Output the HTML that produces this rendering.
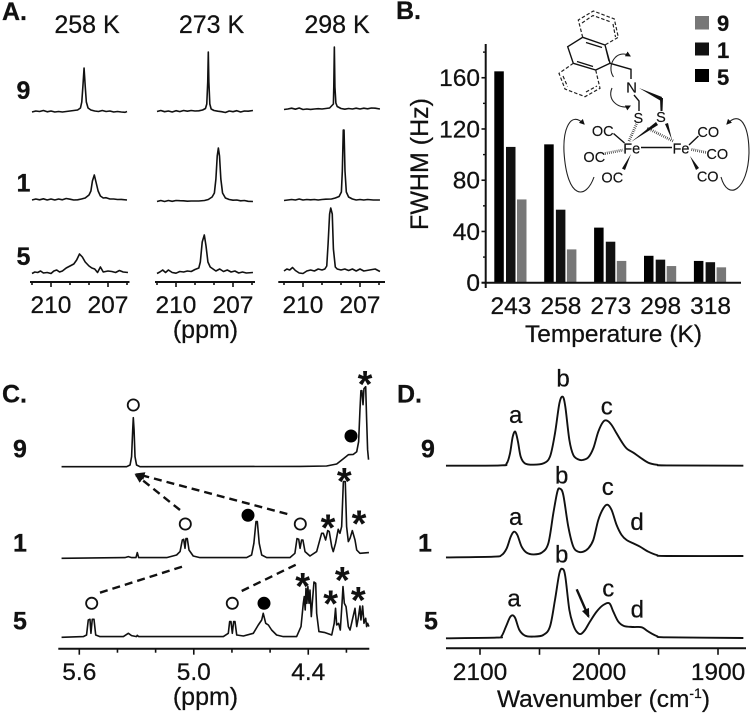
<!DOCTYPE html>
<html lang="en">
<head>
<meta charset="utf-8">
<title>FWHM and spectra figure</title>
<style>
html,body{margin:0;padding:0;background:#fff;width:752px;height:715px;overflow:hidden}
svg{display:block;filter:blur(0.35px)}
text{font-family:"Liberation Sans",Arial,sans-serif;fill:#111;stroke:#111;stroke-width:.25px}
.pl{font-size:25px;font-weight:700}
.rl{font-size:25px;font-weight:700}
.t24{font-size:24.5px}
.ast{font-size:38px;font-weight:700;text-anchor:middle;stroke:none}
.pk{font-size:24px;text-anchor:middle}
.chem{font-size:14.5px;text-anchor:middle;stroke-width:.15px}
.bd{stroke:#111;stroke-width:1.4;fill:none}
.ds{stroke:#222;stroke-width:1.2;fill:none;stroke-dasharray:3.5 2}
.dt{stroke:#222;stroke-width:2.8;fill:none;stroke-dasharray:.7 1.3}
.cv{stroke:#222;stroke-width:1.1;fill:none}
</style>
</head>
<body>
<svg id="fig" width="752" height="715" viewBox="0 0 752 715" xmlns="http://www.w3.org/2000/svg">
<defs>
<marker id="ah" viewBox="0 0 10 10" refX="8" refY="5" markerWidth="5" markerHeight="5" orient="auto-start-reverse"><path d="M0,0L10,5L0,10Z" fill="#111"/></marker>
<marker id="ah2" viewBox="0 0 10 10" refX="8" refY="5" markerWidth="4" markerHeight="4" orient="auto"><path d="M0,1L10,5L0,9Z" fill="#111"/></marker>
</defs>
<rect width="752" height="715" fill="#fff"/>

<g id="panelA">
<text class="pl" x="2" y="20">A.</text>
<text class="t24" x="87" y="33" text-anchor="middle" style="font-size:25px">258 K</text>
<text class="t24" x="211.5" y="33" text-anchor="middle" style="font-size:25px">273 K</text>
<text class="t24" x="337" y="33" text-anchor="middle" style="font-size:25px">298 K</text>
<text class="rl" x="16.5" y="99">9</text>
<text class="rl" x="16.5" y="191.5">1</text>
<text class="rl" x="16.5" y="265">5</text>
<text class="t24" x="205.5" y="338" text-anchor="middle" style="font-size:25px">(ppm)</text>
</g>

<g id="panelB">
<text class="pl" x="396" y="19">B.</text>
<text class="t24" transform="translate(428,164) rotate(-90)" text-anchor="middle" style="font-size:25px">FWHM (Hz)</text>
<text class="t24" x="613.5" y="342" text-anchor="middle">Temperature (K)</text>
<g>
<rect x="695" y="16" width="14" height="13.5" fill="#777"/>
<text x="717" y="31" style="font-size:22px;font-weight:700">9</text>
<rect x="695" y="42.5" width="14" height="13" fill="#111"/>
<text x="717" y="58" style="font-size:22px;font-weight:700">1</text>
<rect x="695" y="69" width="14" height="13" fill="#000"/>
<text x="717" y="85" style="font-size:22px;font-weight:700">5</text>
</g>
<g>
<path class="bd" d="M567.7,46.7L582.7,37.3L605,45L610,63.3L595.7,70L573.3,63.3Z M586,42.5L602,47.5 M606,49L609,61 M593,66.5L577,61.5"/>
<path class="ds" d="M582.7,37.3L578.3,20L593.3,11L614.3,19L618.3,37.3L605,45 M582,23L593,15.5L611,22 M613,24L615.5,37"/>
<path class="ds" d="M573.3,63.3L559,73.3L565,89L585,96.7L600,88.3L595.7,70 M563,76L567.5,86.5 M586,92L597,86"/>
<path class="bd" d="M610,63.3L631,69.3L631,79"/>
<path class="bd" d="M634,95L639,101L639,111"/>
<path d="M639,88L662,97L661,101Z" fill="#111"/>
<path d="M660,98L663,98L662.5,111L660.5,111Z" fill="#111"/>
<text class="chem" x="631.5" y="92.5" style="font-size:15px">N</text>
<text class="chem" x="638.3" y="123">S</text>
<text class="chem" x="661" y="122">S</text>
<text class="chem" x="631.7" y="153.5">Fe</text>
<text class="chem" x="681" y="153.5">Fe</text>
<text class="chem" x="602.7" y="136">OC</text>
<text class="chem" x="594.3" y="162">OC</text>
<text class="chem" x="612.3" y="182.5">OC</text>
<text class="chem" x="708.3" y="137">CO</text>
<text class="chem" x="717.3" y="159">CO</text>
<text class="chem" x="707.7" y="181.5">CO</text>
<path class="bd" d="M641,147.5L672,147.5 M613.5,133.5L624.5,143 M689,145L698.5,136"/>
<path class="dt" d="M605,153.5L623,150 M691.5,149.5L706.5,152.5 M629,141L636.5,124 M673,141L647,128"/>
<path d="M631,154L625,170L622,168.5Z M690,156L699,168L696,170Z M631,142L656,122L658,125Z M672,140L665,124L668,123Z" fill="#111"/>
<path class="cv" marker-end="url(#ah)" d="M594,177C586,200 567,200 564,152C563,130 570,110 584,124"/>
<path class="cv" marker-end="url(#ah)" d="M721,177C728,202 748,190 749,153C749,125 740,110 727,124"/>
<path class="cv" marker-end="url(#ah)" d="M613.5,77C606,66 616,48 630,56"/>
<path class="cv" marker-end="url(#ah)" d="M612,88C606,102 622,110 630,106"/>
</g>
</g>

<g id="panelC">
<text class="pl" x="2" y="402.5">C.</text>
<text class="rl" x="13" y="457.5">9</text>
<text class="rl" x="13" y="551.5">1</text>
<text class="rl" x="13" y="629.5">5</text>
<text class="t24" x="205.5" y="705" text-anchor="middle" style="font-size:25px">(ppm)</text>
<g fill="#fff" stroke="#111" stroke-width="1.8">
<circle cx="133.3" cy="405" r="5.6"/>
<circle cx="185.3" cy="524" r="5.6"/>
<circle cx="300.3" cy="524" r="5.6"/>
<circle cx="91.7" cy="603.3" r="5.6"/>
<circle cx="232.3" cy="603.3" r="5.6"/>
</g>
<g fill="#000">
<circle cx="351" cy="436" r="6.5"/>
<circle cx="248" cy="515.3" r="6.5"/>
<circle cx="264" cy="603.3" r="6.5"/>
</g>
<g stroke="#111" stroke-width="2.4" stroke-dasharray="8 5" fill="none">
<path d="M180,510L136,475" marker-end="url(#ah2)"/>
<path d="M287.3,514L137,474" marker-end="url(#ah2)"/>
<path d="M100,592.7L184.3,566"/>
<path d="M241.7,591L296.7,564.3"/>
</g>
<g>
<text class="ast" x="365" y="397">*</text>
<text class="ast" x="344.3" y="494">*</text>
<text class="ast" x="328" y="540.7">*</text>
<text class="ast" x="359" y="536.7">*</text>
<text class="ast" x="302.7" y="599">*</text>
<text class="ast" x="330.7" y="616.7">*</text>
<text class="ast" x="342.3" y="593">*</text>
<text class="ast" x="358.3" y="613">*</text>
</g>
</g>

<g id="panelD">
<text class="pl" x="397" y="402.5">D.</text>
<text class="rl" x="421" y="457.5">9</text>
<text class="rl" x="418" y="551.5">1</text>
<text class="rl" x="424" y="629.5">5</text>
<text class="t24" x="603.5" y="707" text-anchor="middle">Wavenumber (cm<tspan dy="-9" style="font-size:14px">-1</tspan><tspan dy="9">)</tspan></text>
<text class="pk" x="515.7" y="423">a</text>
<text class="pk" x="563" y="386.5">b</text>
<text class="pk" x="606.7" y="414.5">c</text>
<text class="pk" x="515.7" y="525">a</text>
<text class="pk" x="561.7" y="483.5">b</text>
<text class="pk" x="607.7" y="495">c</text>
<text class="pk" x="637" y="530">d</text>
<text class="pk" x="514" y="606.5">a</text>
<text class="pk" x="561.7" y="562.5">b</text>
<text class="pk" x="608.3" y="596.5">c</text>
<text class="pk" x="637.3" y="617.5">d</text>
<path d="M576.7,589.3L588.5,616.5" stroke="#111" stroke-width="2.4" fill="none" marker-end="url(#ah2)"/>
</g>

<g id="marks"></g>
</svg>

<script>
/* ---------- Panel B data ---------- */
const temperatures = ['243', '258', '273', '298', '318'];
const fwhm5 = [165, 108, 43, 21, 17];
const fwhm1 = [106, 57, 32, 18, 16];
const fwhm9 = [65, 26, 17, 13, 12];
const fwhmTicks = [0, 40, 80, 120, 160];
const fwhmMinorTicks = [20, 60, 100, 140, 180];

/* ---------- Panel A data: [ppm, intensity] ---------- */
const a258r9 = [[211,0],[210.8,1],[210.6,.5],[210.4,1.5],[210.2,.2],[210,1],[209.8,0],[209.6,.5],[209.4,0],[209.2,.5],[209,1],[208.8,1.5],[208.6,2],[208.45,4],[208.38,10],[208.32,26],[208.26,44],[208.2,26],[208.14,10],[208.05,4],[207.9,2],[207.7,1],[207.5,.5],[207.3,1.5],[207.1,.5],[206.9,1],[206.7,0],[206.5,.5],[206.3,0],[206.1,-.3],[206,.5]];
const a273r9 = [[211,.5],[210.8,1.5],[210.6,.3],[210.4,1],[210.2,0],[210,1.3],[209.8,.4],[209.6,1.5],[209.4,.8],[209.2,1.5],[209,1],[208.8,1.2],[208.6,2],[208.45,3.5],[208.38,8],[208.33,30],[208.3,60],[208.27,30],[208.22,8],[208.15,3],[208,1.5],[207.8,.8],[207.6,.3],[207.4,-.5],[207.2,1],[207,.3],[206.8,1.3],[206.6,0],[206.4,1],[206.2,.8],[205.95,1.5]];
const a298r9 = [[211,2.5],[210.8,3],[210.6,3.8],[210.4,2.8],[210.2,4],[210,2.5],[209.8,3],[209.6,2.6],[209.4,3],[209.2,3.3],[209,3],[208.8,3.5],[208.6,4],[208.5,6],[208.4,8],[208.38,25],[208.35,65],[208.32,25],[208.27,9],[208.2,5.5],[208,3.5],[207.8,2.8],[207.6,3.5],[207.4,3],[207.2,3.8],[207,3],[206.8,3.8],[206.6,3.2],[206.4,4],[206.2,3.8],[205.95,3]];
const a258r1 = [[211,1],[210.8,2],[210.6,1.2],[210.4,2.2],[210.2,1],[210,2],[209.8,1],[209.6,2],[209.4,1.2],[209.2,2.5],[209,1.8],[208.8,1],[208.6,1.2],[208.4,2],[208.2,3],[208,6],[207.9,10],[207.82,20],[207.72,26],[207.62,18],[207.52,10],[207.4,5],[207.25,3],[207.1,3.3],[206.9,2],[206.7,2],[206.5,1.5],[206.3,1.6],[206,1]];
const a273r1 = [[211,-.5],[210.8,.5],[210.6,-.5],[210.4,.5],[210.2,-.3],[210,.5],[209.8,.3],[209.6,.2],[209.4,-.2],[209.2,0],[209,0],[208.8,0],[208.5,.5],[208.3,1.5],[208.1,4],[207.98,8],[207.9,22],[207.83,45],[207.77,53],[207.71,45],[207.64,22],[207.55,8],[207.4,3],[207.2,1.5],[207,.8],[206.8,1],[206.6,.2],[206.4,.5],[206.2,-.3],[205.95,-.5]];
const a298r1 = [[211,.5],[210.8,1],[210.6,1.5],[210.4,1],[210.2,2],[210,1],[209.8,1.5],[209.6,1.2],[209.4,1.5],[209.2,1],[209,1.5],[208.8,1.8],[208.5,2],[208.3,3],[208.1,4.5],[207.98,9],[207.93,30],[207.88,71],[207.84,71],[207.79,30],[207.72,9],[207.6,4],[207.4,2],[207.2,1],[207,1.5],[206.8,1],[206.6,1.5],[206.3,1],[205.95,1]];
const a258r5 = [[211,.5],[210.85,2],[210.7,1.5],[210.55,3],[210.4,1],[210.2,1.5],[210,.5],[209.85,3],[209.7,4],[209.55,2],[209.4,3],[209.2,6],[209,8],[208.8,10],[208.65,14],[208.5,20],[208.35,17],[208.2,12],[208,8],[207.85,6],[207.7,5],[207.55,1.5],[207.4,7],[207.25,2],[207,3],[206.8,2.5],[206.6,1.5],[206.4,3.5],[206.2,2],[205.95,1.5]];
const a273r5 = [[211,.5],[210.85,2],[210.7,4],[210.55,1.5],[210.4,4],[210.2,1.5],[210,.8],[209.8,2.5],[209.6,2],[209.4,3],[209.2,2.5],[209,4.5],[208.8,6],[208.72,12],[208.62,32],[208.51,39],[208.42,28],[208.32,12],[208.2,7],[208.05,5],[207.9,3],[207.7,5],[207.5,2.5],[207.3,4],[207.1,2],[206.9,3],[206.7,1],[206.5,2],[206.3,1],[205.95,1.5]];
const a298r5 = [[211,3],[210.85,5],[210.7,4],[210.55,6.5],[210.4,3.5],[210.2,1],[210,.5],[209.8,3],[209.6,4],[209.4,3],[209.2,5],[209,4],[208.85,5],[208.75,8],[208.68,30],[208.6,60],[208.54,66],[208.46,60],[208.4,25],[208.3,7],[208.2,5],[208,4],[207.8,5],[207.6,3.5],[207.4,5],[207.2,3],[207,5],[206.8,3],[206.5,4],[206.2,5],[205.95,2.5]];
const aMajorPpm = [210, 207];
const aMinorPpm = [211, 209, 208, 206];

/* ---------- Panel C data: ppm and intensity ---------- */
const c9Ppm = [5.693,5.352,5.334,5.326,5.320,5.317,5.313,5.308,5.300,5.282,4.443,4.304,4.251,4.216,4.190,4.164,4.146,4.136,4.129,4.124,4.119,4.113,4.108,4.099,4.094,4.089,4.084];
const c9Int = [0,0,1.7,10,37,49,37,10,1.7,0,.3,.7,2.7,8,12,12.3,15,25,57,76,76,62,78,80,47,17,7];
const c1Ppm = [5.693,5.361,5.343,5.326,5.303,5.296,5.289,5.142,5.090,5.072,5.060,5.053,5.046,5.041,5.034,5.025,5.003,4.968,4.723,4.697,4.685,4.674,4.667,4.657,4.644,4.618,4.496,4.470,4.459,4.450,4.443,4.435,4.428,4.417,4.391,4.356,4.330,4.321,4.309,4.298,4.290,4.277,4.269,4.257,4.243,4.234,4.225,4.216,4.206,4.199,4.190,4.181,4.169,4.155,4.146,4.129,4.082];
const c1Int = [0,.7,1.7,.7,.7,5.7,.7,.7,3.3,6.7,18.3,19,10,19.7,19.7,8.3,2.3,.7,.7,3.3,15,36.7,36.7,15,3.3,.7,.7,5,19.7,19,10,18.3,18.3,6.7,2.3,6.7,25,25,18.3,27.7,26.7,11.7,6.7,15,29,25,31.7,76.7,76.7,31.7,16.7,20,27.7,18.3,8.3,5,5.7];
const c5Ppm = [5.693,5.579,5.562,5.553,5.544,5.539,5.532,5.523,5.514,5.492,5.369,5.343,5.326,5.300,5.296,5.289,4.845,4.819,4.812,4.805,4.798,4.791,4.784,4.775,4.740,4.688,4.662,4.644,4.636,4.623,4.609,4.592,4.566,4.531,4.461,4.438,4.426,4.421,4.416,4.412,4.407,4.402,4.396,4.391,4.384,4.379,4.370,4.361,4.356,4.344,4.312,4.277,4.264,4.257,4.251,4.241,4.232,4.223,4.218,4.211,4.202,4.190,4.181,4.167,4.155,4.146,4.138,4.129,4.124,4.115,4.108,4.099,4.094,4.089,4.082];
const c5Int = [0,.7,2.3,17.3,18,4,18,18,2.3,.7,.7,4,1.7,.7,2,.7,.7,4,15.7,15.7,4,15.7,15.7,2.3,1.3,4,12.3,17.3,24,14,12.3,7.3,2.3,.7,.7,10.7,34,40.7,27.3,49,34,50.7,34,47.3,20.7,34,55.3,54,24,5.7,4.7,2.3,14,29,12.3,14,7.3,34,50.7,34,30.7,10.7,7.3,19,29,10.7,19,31.3,17.3,31.3,14,19,10.7,14,10.7];
const cMajorPpm = ['5.6', '5.0', '4.4'];
const cMinorPpm = [5.4, 5.2, 4.8, 4.6, 4.2];

/* ---------- Panel D data: wavenumber and absorbance ---------- */
const d9Wn = [2128.6,2083.2,2077.6,2074.8,2072.5,2070.3,2068.1,2065.8,2062.2,2055.2,2046.8,2041.2,2037,2033.3,2030.5,2028.3,2024.9,2021.6,2017.4,2013.7,2009,2004.8,2000.6,1996.4,1993,1989.4,1985.2,1981,1976.8,1971.1,1965.5,1958.5,1951.5,1943.1,1878.7];
const d9Abs = [0,.3,2.3,12.3,29,34,24,9,2.3,1,2.3,9,32.3,62.3,69,59,25.7,10.7,6.3,5.7,8.3,17.3,34,44,45,40.7,32.3,24,17.3,13,8.3,3,1,.3,0];
const d1Wn = [2128.6,2088.8,2081.8,2077.6,2074.2,2071.4,2068.6,2065,2060.8,2055.2,2048.2,2042.6,2038.4,2035,2032.8,2030,2025.8,2021.6,2017.4,2013.2,2009,2004.8,2000.6,1996.4,1993,1989.4,1985.2,1981,1976.8,1971.1,1965.5,1958.5,1951.5,1943.1,1878.7];
const d1Abs = [-.7,0,1.7,8.3,20,25,21.7,10,4,2.3,4,13.3,43.3,65,68,61.7,30,10,5,5,8.3,16.7,36.7,48.3,52,46.7,31.7,21.7,16.7,13.3,10,5,1.7,.7,.7];
const d5Wn = [2128.6,2086,2081.8,2078.2,2074.8,2072.5,2070.3,2066.9,2062.2,2055.2,2046.8,2041.2,2037,2033.3,2030.5,2028.3,2024.9,2021.6,2018.8,2015.4,2011.8,2007.6,2002,1996.4,1991.3,1988,1983.8,1979,1971.1,1964.1,1958.5,1951.5,1943.1,1878.7];
const d5Abs = [0,.7,2.3,11.7,21,23,20,8.3,2.7,1.7,3.3,11.7,38.3,65,69.3,61.7,28.3,13.3,6.7,4.3,8.3,16.7,26.7,33.3,35,26.7,16.7,12.3,11.3,11,6.7,2.3,1,.3];
const dMajorWn = ['2100', '2000', '1900'];
const dMinorWn = [2050, 1950];

/* ---------- Helpers and scales ---------- */
const NS = 'http://www.w3.org/2000/svg';
const marks = document.getElementById('marks');
function mk(tag, attrs) {
  const el = document.createElementNS(NS, tag);
  for (const k in attrs) el.setAttribute(k, attrs[k]);
  marks.appendChild(el);
  return el;
}
function linePath(pts) {
  return pts.map((p, i) => (i ? 'L' : 'M') + p[0].toFixed(2) + ',' + p[1].toFixed(2)).join('');
}
function smoothPath(pts) {
  let d = 'M' + pts[0][0].toFixed(2) + ',' + pts[0][1].toFixed(2);
  for (let i = 0; i < pts.length - 1; i++) {
    const p0 = pts[Math.max(0, i - 1)], p1 = pts[i], p2 = pts[i + 1], p3 = pts[Math.min(pts.length - 1, i + 2)];
    const c1x = p1[0] + (p2[0] - p0[0]) / 6, c1y = p1[1] + (p2[1] - p0[1]) / 6;
    const c2x = p2[0] - (p3[0] - p1[0]) / 6, c2y = p2[1] - (p3[1] - p1[1]) / 6;
    d += 'C' + c1x.toFixed(2) + ',' + c1y.toFixed(2) + ' ' + c2x.toFixed(2) + ',' + c2y.toFixed(2) + ' ' + p2[0].toFixed(2) + ',' + p2[1].toFixed(2);
  }
  return d;
}
function zip(xs, ys) { return xs.map((x, i) => [x, ys[i]]); }
function drawTrace(pts, xf, yf, width, smooth) {
  const px = pts.map(p => [xf(p[0]), yf(p[1])]);
  const el = mk('path', {d: smooth ? smoothPath(px) : linePath(px), fill: 'none', stroke: '#111', 'stroke-width': width, 'stroke-linejoin': 'round'});
  
  
}
function drawAxisLine(x1, x2, y) {
  const el = mk('line', {x1: x1, x2: x2, y1: y, y2: y, stroke: '#111', 'stroke-width': 2});
  
  
}
function drawTick(x, y, len) {
  const el = mk('line', {x1: x, x2: x, y1: y, y2: y + len, stroke: '#111', 'stroke-width': 1.6});
  
  
}
function drawLabel(label, x, y, size) {
  const el = mk('text', {x: x, y: y, 'text-anchor': 'middle', 'font-size': size});
  
  
  el.textContent = label;
}

/* ---------- Panel A ---------- */
const aOrigins = [51, 176, 303];
const aRanges = [[30, 129.5], [155, 255], [278.3, 385]];
const aRowBase = [112, 201, 274];
const aTraces = [[a258r9, a258r1, a258r5], [a273r9, a273r1, a273r5], [a298r9, a298r1, a298r5]];
function aX(col) { return ppm => aOrigins[col] + (210 - ppm) * 19; }
function aY(row) { return v => aRowBase[row] - v; }
aTraces.forEach((col, c) => {
  col.forEach((t, r) => drawTrace(t, aX(c), aY(r), 1.6, false));
  drawAxisLine(aRanges[c][0], aRanges[c][1], 282);
  aMajorPpm.forEach(p => {
    drawTick(aX(c)(p), 282, 5);
    drawLabel(String(p), aX(c)(p), 313, 24.5);
  });
  aMinorPpm.forEach(p => drawTick(aX(c)(p), 282, 3));
});

/* ---------- Panel B ---------- */
const bY = v => 282.7 - v * 1.281;
const bGroup = i => 510 + i * 49.9;
const bOffsets = [-15.7, -4, 7];
const bSeries = [fwhm5, fwhm1, fwhm9];
const bColors = ['#000', '#111', '#777'];
bSeries.forEach((series, s) => {
  series.forEach((v, i) => {
    const el = mk('rect', {x: bGroup(i) + bOffsets[s], y: bY(v), width: 9.5, height: bY(0) - bY(v), fill: bColors[s]});
    
    
  });
});
const bYAxis = mk('line', {x1: 485.7, x2: 485.7, y1: 44, y2: 288, stroke: '#111', 'stroke-width': 2});


drawAxisLine(481.5, 741, 282.7);
fwhmTicks.forEach(v => {
  const el = mk('line', {x1: 481.5, x2: 485.7, y1: bY(v), y2: bY(v), stroke: '#111', 'stroke-width': 1.6});
  
  
  const lb = mk('text', {x: 480, y: bY(v) + 8.5, 'text-anchor': 'end', 'font-size': 24.5});
  
  
  lb.textContent = String(v);
});
fwhmMinorTicks.forEach(v => {
  const el = mk('line', {x1: 483, x2: 485.7, y1: bY(v), y2: bY(v), stroke: '#111', 'stroke-width': 1.4});
  
  
});
temperatures.forEach((t, i) => drawLabel(t, bGroup(i) + 1, 314, 24.5));

/* ---------- Panel C ---------- */
const cX = ppm => 79.3 + (5.6 - ppm) * 190.8;
const cBases = [466.7, 558.3, 637.3];
const cY = row => v => cBases[row] - v;
drawTrace(zip(c9Ppm, c9Int), cX, cY(0), 1.6, false);
drawTrace(zip(c1Ppm, c1Int), cX, cY(1), 1.6, false);
drawTrace(zip(c5Ppm, c5Int), cX, cY(2), 1.6, false);
drawAxisLine(58.3, 369.3, 648.7);
cMajorPpm.forEach(p => {
  drawTick(cX(parseFloat(p)), 648.7, 6);
  drawLabel(p, cX(parseFloat(p)), 680, 24.5);
});
cMinorPpm.forEach(p => drawTick(cX(p), 648.7, 4));

/* ---------- Panel D ---------- */
const dX = wn => 480 + (2100 - wn) * 1.19;
const dBases = [465.7, 556.7, 638.3];
const dY = row => v => dBases[row] - v;
drawTrace(zip(d9Wn, d9Abs), dX, dY(0), 1.9, true);
drawTrace(zip(d1Wn, d1Abs), dX, dY(1), 1.9, true);
drawTrace(zip(d5Wn, d5Abs), dX, dY(2), 1.9, true);
drawAxisLine(446, 746, 648.3);
dMajorWn.forEach(w => {
  drawTick(dX(parseFloat(w)), 648.3, 6.5);
  drawLabel(w, dX(parseFloat(w)), 680, 24.5);
});
dMinorWn.forEach(w => drawTick(dX(w), 648.3, 6.5));
</script>
</body>
</html>
